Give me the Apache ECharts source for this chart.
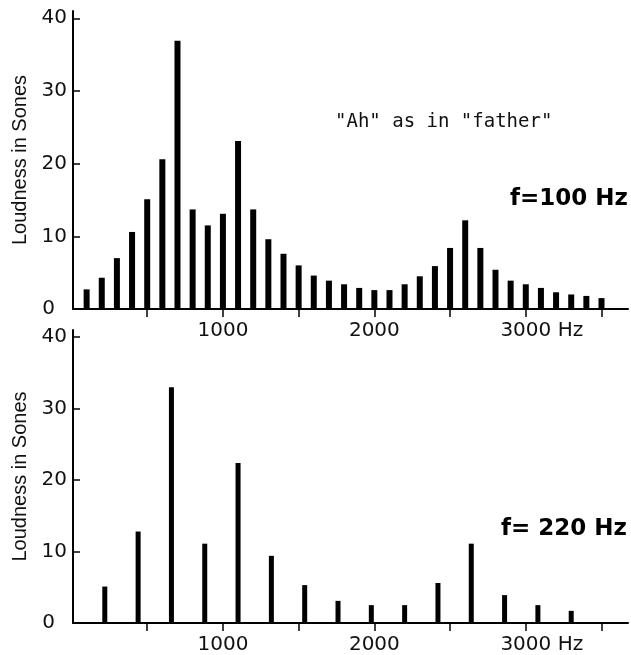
<!DOCTYPE html>
<html>
<head>
<meta charset="utf-8">
<script src="https://cdn.jsdelivr.net/npm/echarts@6/dist/echarts.min.js"></script>
<style>
	html, body { margin: 0; padding: 0; background: #fff; }
	#chart { width: 631px; height: 655px; }
</style>
</head>
<body>
<div id="chart"></div>
<script>
'use strict';

// harmonics of f = 100 Hz, loudness
var freqs100 = [100, 200, 300, 400, 500, 600, 700, 800, 900, 1000,
		1100, 1200, 1300, 1400, 1500, 1600, 1700, 1800, 1900, 2000,
		2100, 2200, 2300, 2400, 2500, 2600, 2700, 2800, 2900, 3000,
		3100, 3200, 3300, 3400, 3500];
var loud100 = [2.7, 4.3, 7.0, 10.6, 15.1, 20.6, 36.9, 13.7, 11.5, 13.1,
		23.1, 13.7, 9.6, 7.6, 6.0, 4.6, 3.9, 3.4, 2.9, 2.6,
		2.6, 3.4, 4.5, 5.9, 8.4, 12.2, 8.4, 5.4, 3.9, 3.4,
		2.9, 2.3, 2.0, 1.8, 1.5];

// harmonics of f = 220 Hz, bottom panel
var freqs220 = [220, 440, 660, 880, 1100, 1320, 1540, 1760, 1980, 2200,
		2420, 2640, 2860, 3080, 3300];
var loud220 = [5.1, 12.8, 33.0, 11.1, 22.4, 9.4, 5.3, 3.1, 2.5, 2.5,
		5.6, 11.1, 3.9, 2.5, 1.7];

var xTicks = [500, 1000, 1500, 2000, 2500, 3000, 3500];
var xLabels = [1000, 2000, 3000];
var yTicks = [10, 20, 30, 40];
var yLabels = [0, 10, 20, 30, 40];

var labelFont = 'DejaVu Sans';

function pairs(xs, ys) {
	var out = [];
	for (var i = 0; i < xs.length; i++) {
		out.push([xs[i], ys[i]]);
	}
	return out;
}

function makeXAxis(idx) {
	return {
		type: 'value',
		gridIndex: idx,
		min: 10,
		max: 3675,
		axisLine: {lineStyle: {color: '#000', width: 2}},
		axisTick: {
			customValues: xTicks,
			length: 8,
			lineStyle: {color: '#000', width: 1.5}
		},
		axisLabel: {
			customValues: xLabels,
			margin: 12,
			color: '#111',
			fontFamily: labelFont,
			fontSize: 20,
			formatter: function (v) {
				// pad left so that "3000" stays centred under its tick
				return v === 3000 ? '{s| }3000 Hz' : String(v);
			},
			rich: {
				s: {width: 32}
			}
		},
		splitLine: {show: false}
	};
}

function makeYAxis(idx) {
	return {
		type: 'value',
		gridIndex: idx,
		min: 0,
		max: 41,
		name: 'Loudness in Sones',
		nameLocation: 'middle',
		nameGap: 33,
		nameTextStyle: {
			color: '#111',
			fontFamily: 'Liberation Sans',
			fontSize: 20
		},
		axisLine: {show: true, lineStyle: {color: '#000', width: 2}},
		axisTick: {
			show: true,
			inside: true,
			length: 7,
			customValues: yTicks,
			lineStyle: {color: '#000', width: 1.5}
		},
		axisLabel: {
			customValues: yLabels,
			margin: 6,
			color: '#111',
			fontFamily: labelFont,
			fontSize: 20,
			formatter: function (v) {
				return v === 0 ? '{z|0}' : String(v);
			},
			rich: {
				z: {padding: [0, 12, 0, 0]}
			}
		},
		splitLine: {show: false}
	};
}

var chart = echarts.init(document.getElementById('chart'));

var option = {
	animation: false,
	backgroundColor: '#fff',
	grid: [
		{left: 73, top: 11, width: 555, height: 298},
		{left: 73, top: 330, width: 555, height: 295}
	],
	xAxis: [makeXAxis(0), makeXAxis(1)],
	yAxis: [makeYAxis(0), makeYAxis(1)],
	series: [
		{
			type: 'bar',
			xAxisIndex: 0,
			yAxisIndex: 0,
			barWidth: 6,
			itemStyle: {color: '#000'},
			data: pairs(freqs100, loud100)
		},
		{
			type: 'bar',
			xAxisIndex: 1,
			yAxisIndex: 1,
			barWidth: 5,
			itemStyle: {color: '#000'},
			data: pairs(freqs220, loud220)
		}
	],
	graphic: [
		{
			type: 'text',
			left: 335,
			top: 113,
			style: {
				text: '"Ah" as in "father"',
				fill: '#111',
				font: '19px "DejaVu Sans Mono"'
			}
		},
		{
			type: 'text',
			right: 3,
			top: 188,
			style: {
				text: 'f=100 Hz',
				fill: '#000',
				font: 'bold 23px "DejaVu Sans"'
			}
		},
		{
			type: 'text',
			right: 4,
			top: 518,
			style: {
				text: 'f= 220 Hz',
				fill: '#000',
				font: 'bold 23px "DejaVu Sans"'
			}
		}
	]
};

chart.setOption(option);
</script>
</body>
</html>
